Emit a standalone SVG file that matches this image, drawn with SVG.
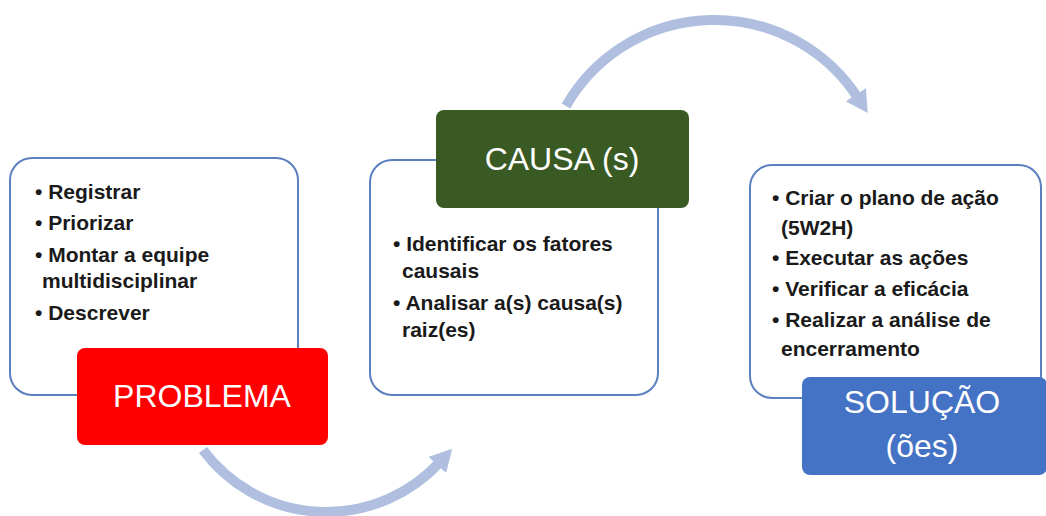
<svg xmlns="http://www.w3.org/2000/svg" width="1046" height="516" viewBox="0 0 1046 516">
<style>
.panel{fill:#fff;stroke:#5b7fbf;stroke-width:2}
.body{font-family:"Liberation Sans",Arial,sans-serif;font-weight:bold;font-size:21px;fill:#1a1a1a}
.lab{font-family:"Liberation Sans",Arial,sans-serif;font-size:32px;fill:#fff;text-anchor:middle}
.arc{fill:none;stroke:#b0bfe0;stroke-width:10}
</style>
<defs>
<marker id="ah" markerUnits="userSpaceOnUse" markerWidth="30" markerHeight="30" refX="4" refY="12" orient="auto">
<path d="M0,0 L22,12 L0,24 z" fill="#b0bfe0"/>
</marker>
</defs>
<rect width="1046" height="516" fill="#fff"/>
<g id="connectors">
<path class="arc" d="M203 450 A154 154 0 0 0 440 462" marker-end="url(#ah)"/>
<path class="arc" d="M566 106 A171 171 0 0 1 858 98" marker-end="url(#ah)"/>
</g>
<g id="problema">
<rect class="panel" x="10" y="158" width="288" height="237" rx="22"/>
<text class="body" x="35" y="199">• Registrar</text>
<text class="body" x="35" y="230">• Priorizar</text>
<text class="body" x="35" y="262">• Montar a equipe</text>
<text class="body" x="42" y="288">multidisciplinar</text>
<text class="body" x="35" y="320">• Descrever</text>
<rect x="77" y="348" width="251" height="97" rx="8" fill="#ff0000"/>
<text class="lab" x="202" y="407">PROBLEMA</text>
</g>
<g id="causa">
<rect class="panel" x="370" y="160" width="288" height="235" rx="22"/>
<rect x="436" y="110" width="253" height="98" rx="8" fill="#3a5a23"/>
<text class="lab" x="562" y="170">CAUSA (s)</text>
<text class="body" x="393" y="251">• Identificar os fatores</text>
<text class="body" x="402" y="278">causais</text>
<text class="body" x="393" y="310">• Analisar a(s) causa(s)</text>
<text class="body" x="402" y="337">raiz(es)</text>
</g>
<g id="solucao">
<rect class="panel" x="750" y="165" width="291" height="233" rx="22"/>
<text class="body" x="772" y="205">• Criar o plano de ação</text>
<text class="body" x="781" y="235">(5W2H)</text>
<text class="body" x="772" y="265">• Executar as ações</text>
<text class="body" x="772" y="296">• Verificar a eficácia</text>
<text class="body" x="772" y="327">• Realizar a análise de</text>
<text class="body" x="781" y="356">encerramento</text>
<rect x="802" y="377" width="245" height="98" rx="8" fill="#4472c4"/>
<text class="lab" x="922" y="413">SOLUÇÃO</text>
<text class="lab" x="922" y="457">(ões)</text>
</g>
</svg>
